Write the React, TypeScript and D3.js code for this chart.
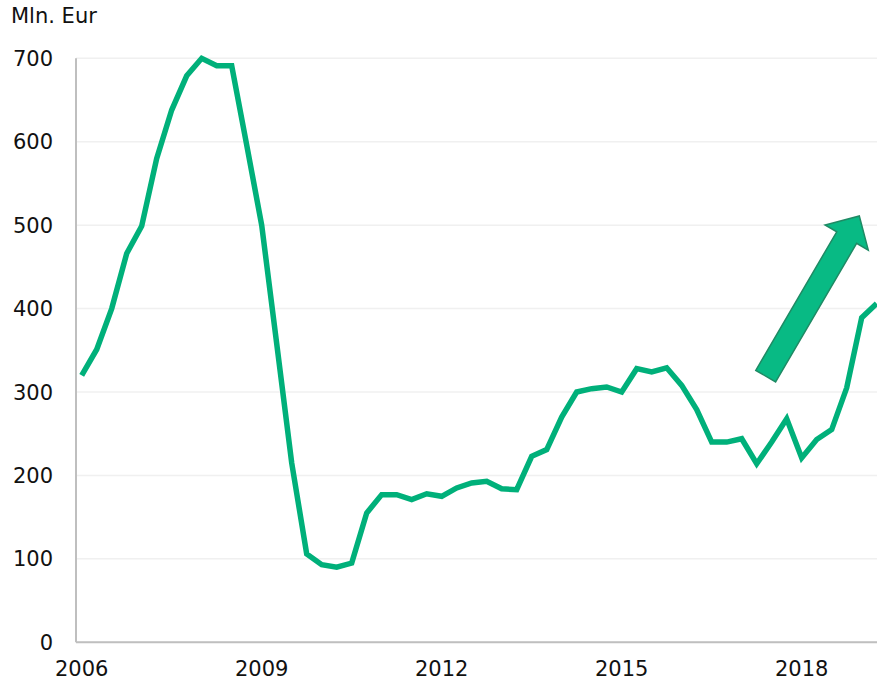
import React from "react";
import * as d3 from "d3";

// Quarterly values, 2006 Q1 .. 2019 Q2 (Mln. Eur)
const values: number[] = [
  320, 351, 400, 466, 499, 580, 638, 679,
  700, 691, 691, 596, 500, 358, 215, 106,
  93, 90, 95, 155, 177, 177, 171, 178,
  175, 185, 191, 193, 184, 183, 223, 231,
  270, 300, 304, 306, 300, 328, 324, 329,
  308, 279, 240, 240, 244, 214, 240, 268,
  221, 243, 255, 305, 389, 406,
];
const xTickIndex: number[] = [0, 12, 24, 36, 48];
const xTickLabels: string[] = ["2006", "2009", "2012", "2015", "2018"];
const yTicks: number[] = [0, 100, 200, 300, 400, 500, 600, 700];
const yTitle = "Mln. Eur";
// Arrow annotation in data space: [quarter index, value]
const arrowTail: [number, number] = [45.6, 319];
const arrowTip: [number, number] = [51.84, 511];

const W = 877;
const H = 683;
const FONT = "Verdana, 'DejaVu Sans', sans-serif";

export default function App() {
  const x = d3.scaleLinear().domain([0, values.length - 1]).range([81.7, 876.7]);
  const y = d3.scaleLinear().domain([0, 700]).range([642.3, 58.3]);
  const plotLeft = 76;
  const plotRight = W;

  const line = d3
    .line<number>()
    .x((_, i) => x(i))
    .y((d) => y(d))
    .curve(d3.curveLinear);

  // arrow polygon
  const tx = x(arrowTail[0]);
  const ty = y(arrowTail[1]);
  const px = x(arrowTip[0]);
  const py = y(arrowTip[1]);
  const dx = px - tx;
  const dy = py - ty;
  const len = Math.hypot(dx, dy);
  const ux = dx / len;
  const uy = dy / len;
  const nx = -uy;
  const ny = ux;
  const shaftW = 23;
  const headW = 50;
  const headL = 25;
  const bx = px - ux * headL;
  const by = py - uy * headL;
  const pts: [number, number][] = [
    [tx + nx * shaftW / 2, ty + ny * shaftW / 2],
    [bx + nx * shaftW / 2, by + ny * shaftW / 2],
    [bx + nx * headW / 2, by + ny * headW / 2],
    [px, py],
    [bx - nx * headW / 2, by - ny * headW / 2],
    [bx - nx * shaftW / 2, by - ny * shaftW / 2],
    [tx - nx * shaftW / 2, ty - ny * shaftW / 2],
  ];
  const arrowPath = "M" + pts.map((p) => p.join(",")).join("L") + "Z";

  return (
    <svg
      width={W}
      height={H}
      style={{ position: "absolute", left: 0, top: 0, background: "#fff" }}
      fontFamily={FONT}
    >
      <rect x={0} y={0} width={W} height={H} fill="#fff" />
      {yTicks.map((t) => (
        <line
          key={"g" + t}
          x1={plotLeft}
          x2={plotRight}
          y1={y(t)}
          y2={y(t)}
          stroke="#f0f0f0"
          strokeWidth={1.5}
        />
      ))}
      <line x1={plotLeft} x2={plotLeft} y1={y(700)} y2={y(0)} stroke="#bfbfbf" strokeWidth={2} />
      <line x1={plotLeft} x2={plotRight} y1={y(0)} y2={y(0)} stroke="#bfbfbf" strokeWidth={2} />
      {yTicks.map((t) => (
        <text
          key={"y" + t}
          x={53}
          y={y(t)}
          dy="0.36em"
          textAnchor="end"
          fontSize={21}
          fill="#111"
        >
          {t}
        </text>
      ))}
      {xTickIndex.map((idx, k) => (
        <text
          key={"x" + idx}
          x={x(idx)}
          y={676}
          textAnchor="middle"
          fontSize={21}
          fill="#111"
        >
          {xTickLabels[k]}
        </text>
      ))}
      <text x={11} y={23} fontSize={21} fill="#111">
        {yTitle}
      </text>
      <path
        d={line(values) || ""}
        fill="none"
        stroke="#00b07a"
        strokeWidth={5.5}
        strokeLinejoin="miter"
      />
      <path d={arrowPath} fill="#08ba84" stroke="#1f8a64" strokeWidth={1.5} strokeLinejoin="miter" />
    </svg>
  );
}
